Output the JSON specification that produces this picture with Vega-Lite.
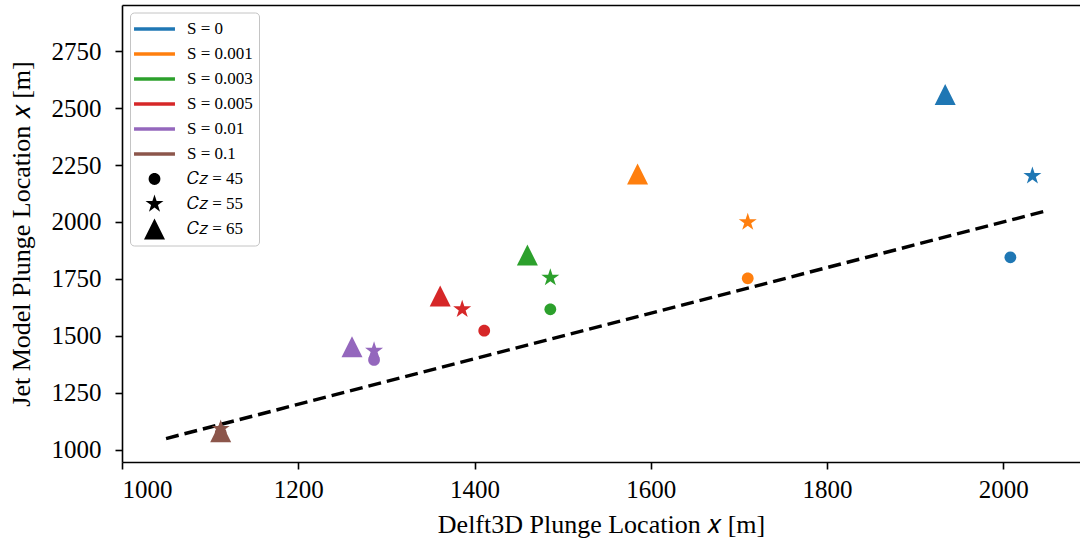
{
  "$schema": "https://vega.github.io/schema/vega-lite/v6.json",
  "width": 958,
  "height": 457,
  "autosize": {"type": "none"},
  "padding": {"left": 122, "top": 5, "right": 0, "bottom": 81},
  "background": "white",
  "config": {
    "font": "Liberation Serif",
    "view": {"stroke": null},
    "axis": {
      "grid": false,
      "domainColor": "black",
      "domainWidth": 1.6,
      "tickColor": "black",
      "tickWidth": 1.6,
      "tickSize": 7,
      "labelFont": "Liberation Serif",
      "labelFontSize": 25,
      "labelColor": "black",
      "titleFont": "Liberation Serif",
      "titleFontSize": 26,
      "titleFontWeight": "normal",
      "titleColor": "black"
    },
    "legend": {
      "orient": "none",
      "legendX": 8,
      "legendY": 7.5,
      "direction": "vertical",
      "padding": 6,
      "strokeColor": "#c4c4c4",
      "fillColor": "rgba(255,255,255,0.8)",
      "cornerRadius": 4,
      "labelFont": "Liberation Serif",
      "labelFontSize": 17,
      "labelColor": "black",
      "symbolSize": 441,
      "symbolStrokeWidth": 0,
      "symbolOffset": 8,
      "rowPadding": 6,
      "labelOffset": 22
    }
  },
  "datasets": {
    "points": [
      {"delft3d": 2008, "jet": 1845, "S": "S = 0", "Cz": "Cz = 45"},
      {"delft3d": 2033, "jet": 2202, "S": "S = 0", "Cz": "Cz = 55"},
      {"delft3d": 1934, "jet": 2559, "S": "S = 0", "Cz": "Cz = 65"},
      {"delft3d": 1710, "jet": 1753, "S": "S = 0.001", "Cz": "Cz = 45"},
      {"delft3d": 1710, "jet": 1999, "S": "S = 0.001", "Cz": "Cz = 55"},
      {"delft3d": 1585, "jet": 2210, "S": "S = 0.001", "Cz": "Cz = 65"},
      {"delft3d": 1486, "jet": 1617, "S": "S = 0.003", "Cz": "Cz = 45"},
      {"delft3d": 1486, "jet": 1756, "S": "S = 0.003", "Cz": "Cz = 55"},
      {"delft3d": 1460, "jet": 1855, "S": "S = 0.003", "Cz": "Cz = 65"},
      {"delft3d": 1411, "jet": 1523, "S": "S = 0.005", "Cz": "Cz = 45"},
      {"delft3d": 1386, "jet": 1617, "S": "S = 0.005", "Cz": "Cz = 55"},
      {"delft3d": 1361, "jet": 1675, "S": "S = 0.005", "Cz": "Cz = 65"},
      {"delft3d": 1286, "jet": 1395, "S": "S = 0.01", "Cz": "Cz = 45"},
      {"delft3d": 1286, "jet": 1435, "S": "S = 0.01", "Cz": "Cz = 55"},
      {"delft3d": 1261, "jet": 1453, "S": "S = 0.01", "Cz": "Cz = 65"},
      {"delft3d": 1112, "jet": 1075, "S": "S = 0.1", "Cz": "Cz = 45"},
      {"delft3d": 1112, "jet": 1092, "S": "S = 0.1", "Cz": "Cz = 55"},
      {"delft3d": 1112, "jet": 1080, "S": "S = 0.1", "Cz": "Cz = 65"}
    ],
    "identity": [
      {"delft3d": 1050, "jet": 1050},
      {"delft3d": 2050, "jet": 2050}
    ]
  },
  "layer": [
    {
      "data": {"name": "identity"},
      "mark": {"type": "line", "color": "black", "strokeWidth": 3.4, "strokeDash": [13, 6], "strokeCap": "butt"},
      "encoding": {
        "x": {"field": "delft3d", "type": "quantitative", "scale": {"domain": [1000, 2087], "nice": false, "zero": false},
              "axis": {"orient": "top", "labels": false, "ticks": false, "title": null, "domain": true}},
        "y": {"field": "jet", "type": "quantitative", "scale": {"domain": [947, 2952], "nice": false, "zero": false},
              "axis": {"values": [1000, 1250, 1500, 1750, 2000, 2250, 2500, 2750], "format": "d", "labelPadding": 14, "title": "Jet Model Plunge Location 𝑥 [m]", "titlePadding": 17}}
      }
    },
    {
      "data": {"name": "points"},
      "mark": {"type": "point", "filled": true, "opacity": 1, "size": 441, "strokeWidth": 0},
      "encoding": {
        "x": {"field": "delft3d", "type": "quantitative",
              "axis": {"values": [1000, 1200, 1400, 1600, 1800, 2000], "format": "d", "labelPadding": 8, "title": "Delft3D Plunge Location 𝑥 [m]", "titlePadding": 9}},
        "y": {"field": "jet", "type": "quantitative"},
        "color": {
          "field": "S", "type": "nominal",
          "scale": {
            "domain": ["S = 0", "S = 0.001", "S = 0.003", "S = 0.005", "S = 0.01", "S = 0.1", "Cz = 45", "Cz = 55", "Cz = 65"],
            "range": ["#1f77b4", "#ff7f0e", "#2ca02c", "#d62728", "#9467bd", "#8c564b", "black", "black", "black"]
          },
          "legend": {"title": null, "labelExpr": "replace(datum.label, 'Cz', '𝐶𝑧')"}
        },
        "shape": {
          "field": "Cz", "type": "nominal",
          "scale": {
            "domain": ["S = 0", "S = 0.001", "S = 0.003", "S = 0.005", "S = 0.01", "S = 0.1", "Cz = 45", "Cz = 55", "Cz = 65"],
            "range": ["M-1.95,-0.165L1.95,-0.165L1.95,0.165L-1.95,0.165Z", "M-1.95,-0.165L1.95,-0.165L1.95,0.165L-1.95,0.165Z", "M-1.95,-0.165L1.95,-0.165L1.95,0.165L-1.95,0.165Z", "M-1.95,-0.165L1.95,-0.165L1.95,0.165L-1.95,0.165Z", "M-1.95,-0.165L1.95,-0.165L1.95,0.165L-1.95,0.165Z", "M-1.95,-0.165L1.95,-0.165L1.95,0.165L-1.95,0.165Z",
                      "M0.56,0A0.56,0.56,0,1,1,-0.56,0A0.56,0.56,0,1,1,0.56,0Z",
                      "M0,-0.9L0.2021,-0.2781L0.856,-0.2781L0.327,0.1062L0.529,0.7281L0,0.3438L-0.529,0.7281L-0.327,0.1062L-0.856,-0.2781L-0.2021,-0.2781Z",
                      "M0,-1L-1,1L1,1Z"]
          },
          "legend": {"title": null, "labelExpr": "replace(datum.label, 'Cz', '𝐶𝑧')"}
        }
      }
    }
  ],
  "resolve": {"axis": {"x": "independent"}}
}
